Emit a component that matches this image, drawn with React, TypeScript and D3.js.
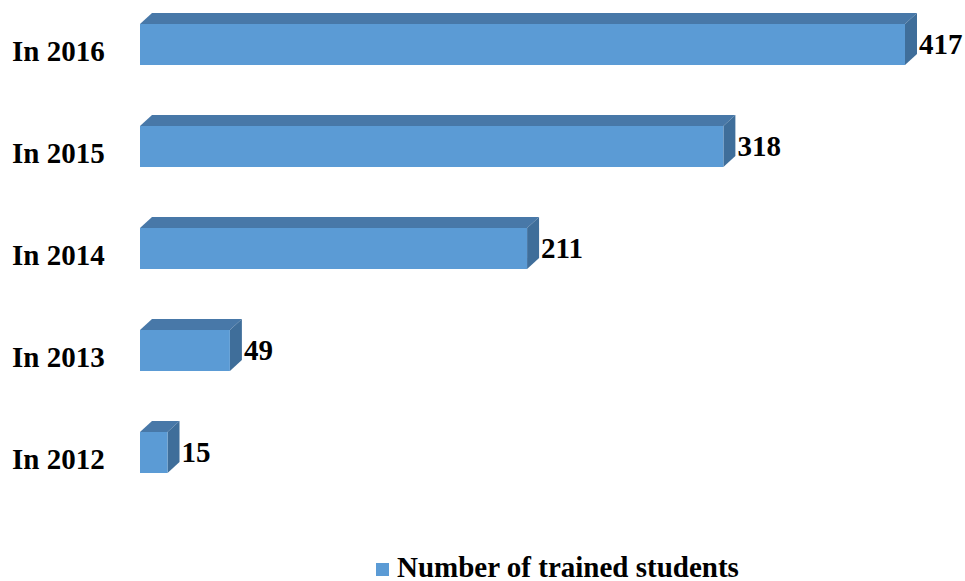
import React from "react";
import * as d3 from "d3";

const categories = ["In 2016", "In 2015", "In 2014", "In 2013", "In 2012"];
const values = [417, 318, 211, 49, 15];
const seriesName = "Number of trained students";

const W = 965;
const H = 581;
const X0 = 140;
const DX = 12;
const DY = 11;

export default function App() {
  const x = d3.scaleLinear().domain([0, 417]).range([0, 765]);
  const y = d3
    .scaleBand<string>()
    .domain(categories)
    .range([-6.5, 503.5])
    .paddingInner(0.598)
    .paddingOuter(0.299);
  const bw = y.bandwidth();
  const font = "'Liberation Serif', 'Times New Roman', serif";
  const front = "#5B9BD5";
  const top = "#4878A8";
  const side = "#3F6E9A";

  return (
    <svg
      width={W}
      height={H}
      style={{ position: "fixed", left: 0, top: 0, background: "#fff" }}
      fontFamily={font}
    >
      {categories.map((c, i) => {
        const y0 = y(c)!;
        const w = x(values[i]);
        const x1 = X0 + w;
        return (
          <g key={c}>
            <polygon
              points={`${X0},${y0} ${X0 + DX},${y0 - DY} ${x1 + DX},${y0 - DY} ${x1},${y0}`}
              fill={top}
            />
            <polygon
              points={`${x1},${y0} ${x1 + DX},${y0 - DY} ${x1 + DX},${y0 + bw - DY} ${x1},${y0 + bw}`}
              fill={side}
            />
            <rect x={X0} y={y0} width={w} height={bw} fill={front} />
            <text
              x={12}
              y={y0 + 37.5}
              fontSize={29}
              fontWeight="bold"
              fill="#000"
            >
              {c}
            </text>
            <text
              x={x1 + DX + 2}
              y={y0 + bw / 2 + 9.5}
              fontSize={29}
              fontWeight="bold"
              fill="#000"
            >
              {values[i]}
            </text>
          </g>
        );
      })}
      <rect x={376} y={563} width={13} height={13} fill={front} />
      <text x={397} y={577} fontSize={29} fontWeight="bold" fill="#000">
        {seriesName}
      </text>
    </svg>
  );
}
